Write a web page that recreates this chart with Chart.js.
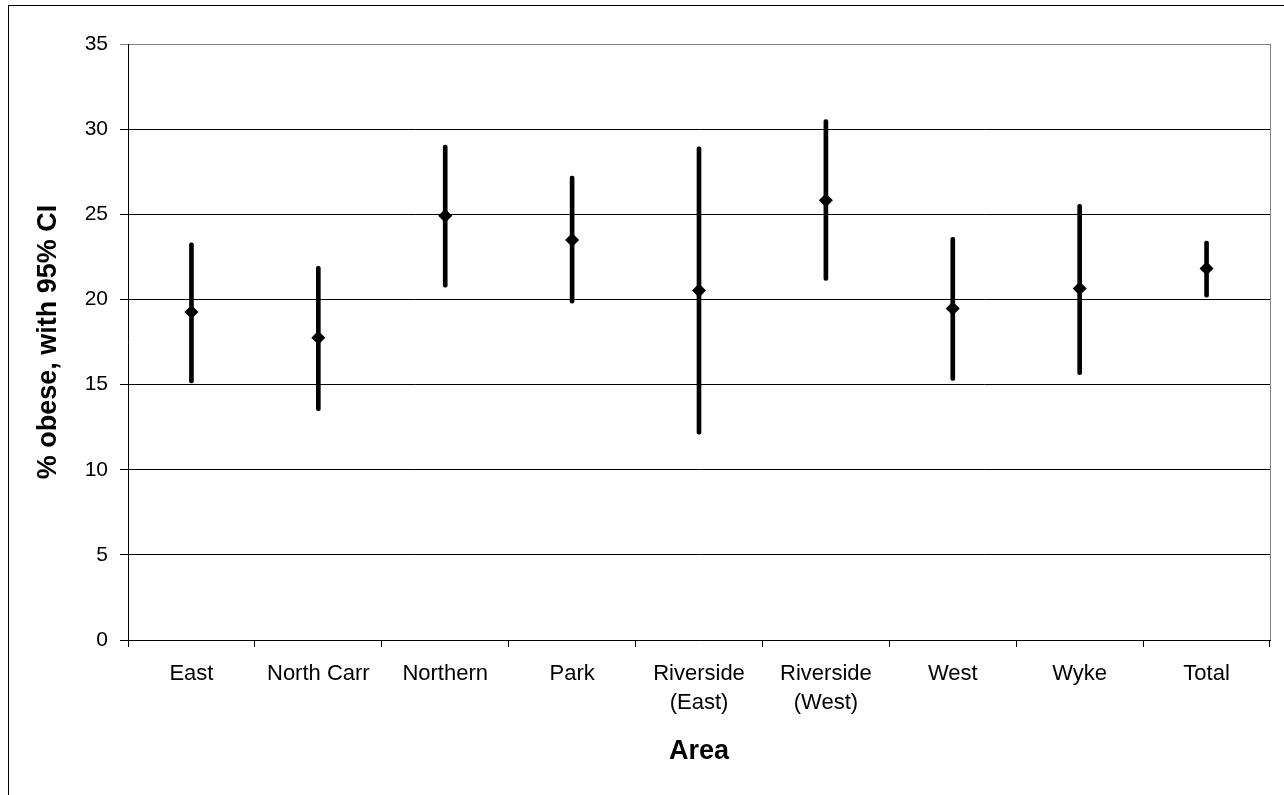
<!DOCTYPE html>
<html>
<head>
<meta charset="utf-8">
<script src="https://cdn.jsdelivr.net/npm/chart.js@4.4.1/dist/chart.umd.min.js"></script>
<style>
  html, body { margin: 0; padding: 0; background: #fff; }
  canvas { display: block; }
</style>
</head>
<body>
<canvas id="c" width="1284" height="795"></canvas>
<script>
const categories = ["East", "North Carr", "Northern", "Park", ["Riverside", "(East)"], ["Riverside", "(West)"], "West", "Wyke", "Total"];
const meanValues = [19.26, 17.75, 24.92, 23.49, 20.52, 25.83, 19.47, 20.64, 21.81];
const lowerValues = [15.10, 13.47, 20.72, 19.78, 12.09, 21.11, 15.25, 15.58, 20.13];
const upperValues = [23.33, 21.95, 29.06, 27.24, 28.96, 30.56, 23.65, 25.58, 23.43];
const yTicks = [0, 5, 10, 15, 20, 25, 30, 35];

const FONT = "'Liberation Sans', Arial, sans-serif";

const ciPairs = lowerValues.map((lo, i) => [lo, upperValues[i]]);

const framePlugin = {
  id: 'frame',
  beforeDraw(chart) {
    const ctx = chart.ctx;
    ctx.save();
    ctx.fillStyle = '#fff';
    ctx.fillRect(0, 0, chart.width, chart.height);
    ctx.strokeStyle = '#000';
    ctx.lineWidth = 1;
    ctx.strokeRect(8.5, 5.5, 3000, 3000);
    ctx.restore();
  },
  beforeDatasetsDraw(chart) {
    const {ctx, chartArea} = chart;
    ctx.save();
    ctx.strokeStyle = '#808080';
    ctx.lineWidth = 1;
    ctx.beginPath();
    ctx.moveTo(Math.round(chartArea.right) + 0.5, chartArea.top);
    ctx.lineTo(Math.round(chartArea.right) + 0.5, chartArea.bottom);
    ctx.stroke();
    ctx.restore();
  }
};

new Chart(document.getElementById('c'), {
  type: 'bar',
  data: {
    labels: categories,
    datasets: [
      {
        type: 'bar',
        label: '95% CI',
        data: ciPairs,
        backgroundColor: '#000',
        borderWidth: 0,
        barThickness: 4,
        borderRadius: 2,
        borderSkipped: false,
        order: 2
      },
      {
        type: 'line',
        label: '% obese',
        data: meanValues,
        showLine: false,
        pointStyle: 'rectRot',
        pointRadius: 7,
        pointBackgroundColor: '#000',
        pointBorderColor: '#000',
        pointBorderWidth: 0,
        order: 1
      }
    ]
  },
  options: {
    responsive: false,
    animation: false,
    devicePixelRatio: 1,
    layout: { padding: { left: 0, top: 44, right: 14, bottom: 0 } },
    plugins: {
      legend: { display: false },
      tooltip: { enabled: false }
    },
    scales: {
      x: {
        type: 'category',
        offset: true,
        grid: {
          offset: true,
          drawOnChartArea: false,
          drawTicks: true,
          tickLength: 7,
          color: '#000'
        },
        border: { color: '#000', width: 1 },
        ticks: {
          color: '#000',
          font: { family: FONT, size: 22, lineHeight: 1.32 },
          padding: 12,
          maxRotation: 0,
          autoSkip: false
        },
        title: {
          display: true,
          text: 'Area',
          color: '#000',
          font: { family: FONT, size: 27, weight: 'bold', lineHeight: 1.2 },
          padding: { top: 0, bottom: 27 }
        },
        afterFit(scale) { scale.height = 155; }
      },
      y: {
        min: 0,
        max: 35,
        afterBuildTicks(scale) { scale.ticks = yTicks.map(v => ({ value: v })); },
        grid: {
          color: ctx => (ctx.tick && ctx.tick.value === 35) ? '#808080' : '#000',
          lineWidth: 1,
          drawTicks: true,
          tickLength: 8
        },
        border: { color: '#000', width: 1 },
        ticks: {
          color: '#000',
          font: { family: FONT, size: 21 },
          padding: 12
        },
        title: {
          display: true,
          text: '% obese, with 95% CI',
          color: '#000',
          font: { family: FONT, size: 27, weight: 'bold', lineHeight: 1.2 },
          padding: { top: 32, bottom: 0 }
        },
        afterFit(scale) { scale.width = 128; }
      }
    }
  },
  plugins: [framePlugin]
});
</script>
</body>
</html>
